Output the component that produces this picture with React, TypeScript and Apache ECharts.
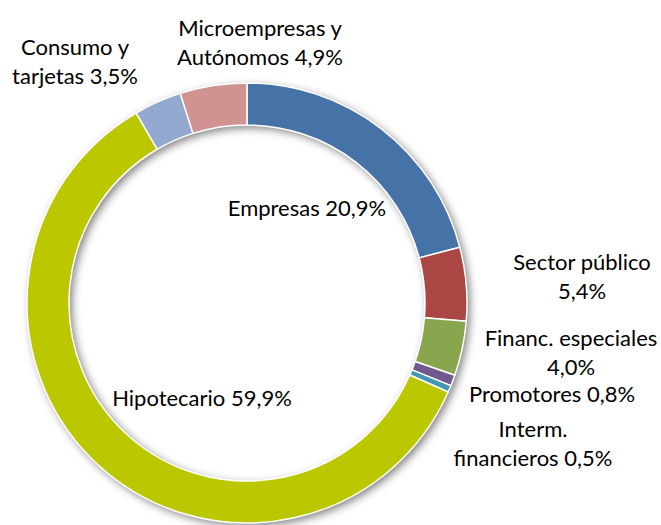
import React, { useEffect, useRef } from "react";
import * as echarts from "echarts";

const categories = [
  "Empresas",
  "Sector público",
  "Financ. especiales",
  "Promotores",
  "Interm.\nfinancieros",
  "Hipotecario",
  "Consumo y\ntarjetas",
  "Microempresas y\nAutónomos",
];
const values = [20.9, 5.4, 4.0, 0.8, 0.5, 59.9, 3.5, 4.9];
const separators = [" ", "\n", "\n", " ", " ", " ", " ", " "];
const colors = ["#4572A7", "#AA4643", "#89A54E", "#71588F", "#4198AF", "#BBC800", "#93A9CF", "#D09392"];
// label anchor positions (layout only)
const labelPos: [number, number][] = [
  [307, 207],
  [582, 276],
  [571, 352],
  [552, 393],
  [533, 443],
  [202, 397],
  [75, 61],
  [260, 42],
];

export default function App() {
  const ref = useRef<HTMLDivElement>(null);
  useEffect(() => {
    if (!ref.current) return;
    const chart = echarts.init(ref.current, undefined, { renderer: "svg" });
    const font = "Lato, 'Open Sans', sans-serif";
    chart.setOption({
      animation: false,
      backgroundColor: "#ffffff",
      series: [
        {
          type: "pie",
          silent: true,
          center: [247, 303],
          radius: [178, 220],
          label: { show: false },
          labelLine: { show: false },
          itemStyle: {
            color: "#ffffff",
            shadowColor: "rgba(0,0,0,0.5)",
            shadowBlur: 9,
            shadowOffsetX: 3,
            shadowOffsetY: 3,
          },
          data: [{ value: 1, name: "bg" }],
          z: 1,
        },
        {
          type: "pie",
          center: [247, 303],
          radius: [178, 220],
          startAngle: 90,
          clockwise: true,
          avoidLabelOverlap: false,
          itemStyle: { borderColor: "#ffffff", borderWidth: 1.5 },
          labelLine: { show: false },
          label: {
            show: true,
            position: "outside",
            color: "#000000",
            fontFamily: font,
            fontSize: 22,
            lineHeight: 29,
            align: "center",
            formatter: (p: any) =>
              p.name + separators[p.dataIndex] + p.value.toFixed(1).replace(".", ",") + "%",
          },
          labelLayout: (p: any) => ({
            x: labelPos[p.dataIndex][0],
            y: labelPos[p.dataIndex][1],
            align: "center",
            verticalAlign: "middle",
          }),
          data: categories.map((c, i) => ({
            name: c,
            value: values[i],
            itemStyle: { color: colors[i] },
          })),
          z: 2,
        },
      ],
    });
    return () => chart.dispose();
  }, []);
  return (
    <div
      ref={ref}
      style={{ position: "fixed", left: 0, top: 0, width: 661, height: 525 }}
    />
  );
}
